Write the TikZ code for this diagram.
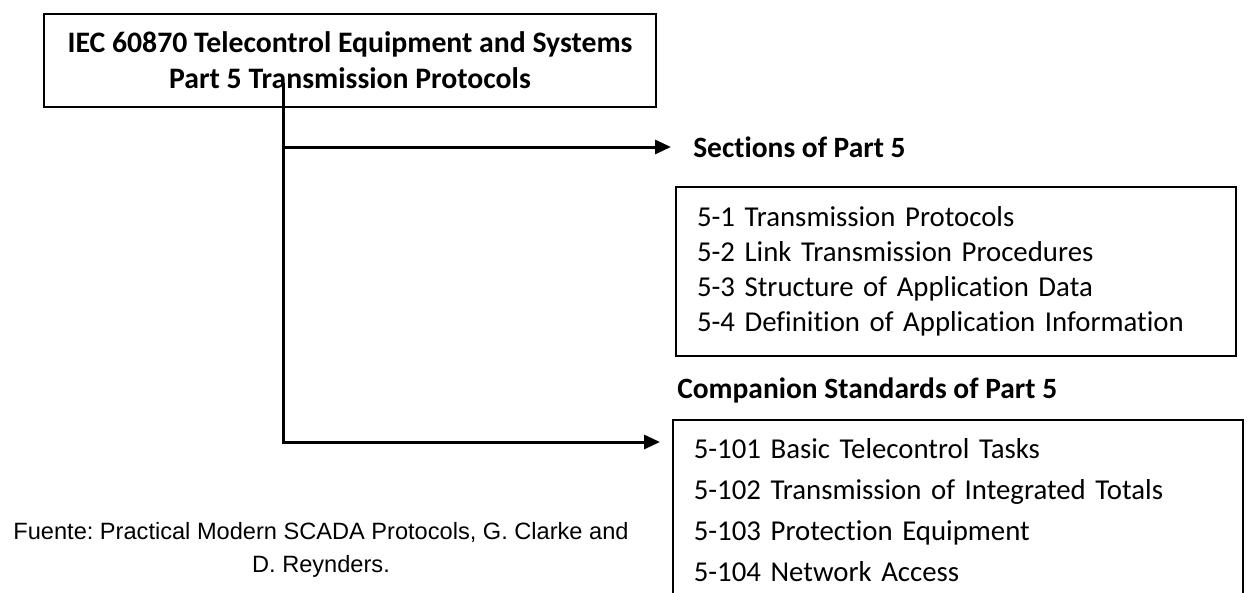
\documentclass[tikz,border=0pt]{standalone}
\usepackage{fontspec}
\setmainfont{Carlito}[Ligatures=CommonOff]
\newfontfamily\notefont{Liberation Sans}
\usetikzlibrary{arrows.meta,calc}

\begin{document}
\frenchspacing
\begin{tikzpicture}[x=0.75pt,y=-0.75pt,
  box/.style={draw, line width=1.2pt, rectangle},
  conn/.style={line width=2.25pt, -{Triangle[length=12pt,width=10.5pt]}},
  headtxt/.style={font=\fontsize{22.1pt}{26pt}\selectfont\bfseries, inner sep=0pt},
]
\useasboundingbox (0,0) rectangle (1248,592);

% main standard box
\node[box, minimum width=459pt, minimum height=69.75pt, align=center,
      font=\fontsize{22.3pt}{27pt}\selectfont\bfseries] (title) at (350,60.5)
  {IEC 60870 Telecontrol Equipment and Systems\\Part 5 Transmission Protocols};

% sections of part 5
\node[headtxt, anchor=west, inner xsep=16.5pt] (sechead) at (671,147) {Sections of Part 5};
\node[box, text width=388.5pt, inner xsep=15.75pt, minimum height=126.75pt, align=left,
      font=\fontsize{21.6pt}{26.25pt}\selectfont] (secbox) at (956,271.5)
  {5-1 Transmission Protocols\\
   5-2 Link Transmission Procedures\\
   5-3 Structure of Application Data\\
   5-4 Definition of Application Information\\[-2pt]};

% companion standards
\node[headtxt, anchor=west] (comphead) at (677,390) {Companion Standards of Part 5};
\node[box, anchor=north west, text width=396pt, inner xsep=15.75pt, inner ysep=14pt, align=left,
      font=\fontsize{21.6pt}{30.75pt}\selectfont] (compbox) at (672,419)
  {5-101 Basic Telecontrol Tasks\\
   5-102 Transmission of Integrated Totals\\
   5-103 Protection Equipment\\
   5-104 Network Access\\[8pt]};

% source note
\node[align=center, inner sep=0pt, font=\notefont\fontsize{17.7pt}{24.75pt}\selectfont] (note) at (321,550)
  {Fuente: Practical Modern SCADA Protocols, G. Clarke and\\D. Reynders.};

% connectors
\coordinate (root) at (283,83);
\draw[conn] (root) |- (sechead.west);
\draw[conn] (root) |- ($(compbox.north west)+(-12,23)$);
\end{tikzpicture}
\end{document}
